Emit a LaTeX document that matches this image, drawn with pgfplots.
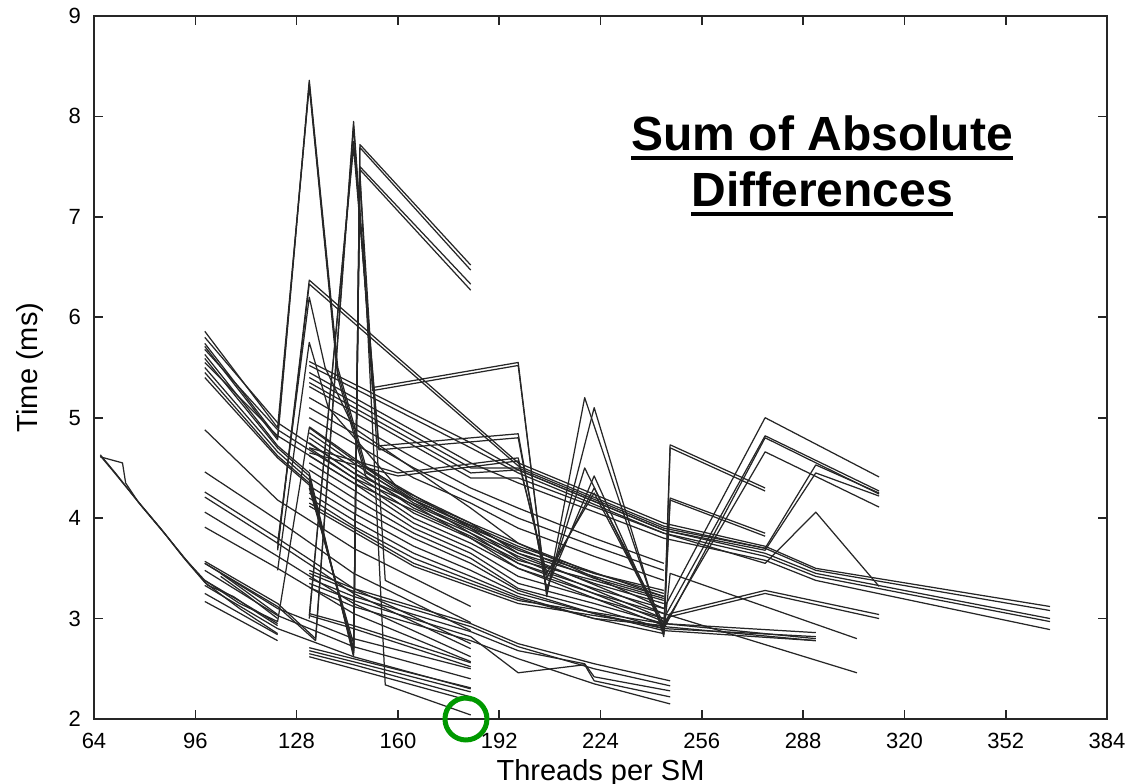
\documentclass[border=0pt]{standalone}
\usepackage{fontspec}
\setmainfont{Liberation Sans}
\usepackage{pgfplots}
\pgfplotsset{compat=1.18}
\usetikzlibrary{calc}
\definecolor{circ}{RGB}{0,153,0}
\newcommand\myul[1]{\setbox0\hbox{#1}\rlap{\rule[-4.5pt]{\wd0}{1.8pt}}\box0}

\begin{document}
\begin{tikzpicture}
\begin{axis}[name=ax, scale only axis, width=506.5pt, height=351.5pt,
  xmin=64, xmax=384, ymin=2, ymax=9,
  xtick={64,96,...,384}, ytick={2,3,...,9},
  tick align=inside, major tick length=4.5pt,
  axis line style={black!85,line width=1pt},
  every tick/.style={black!85,line width=0.8pt},
  tick label style={font=\fontsize{11}{13}\selectfont},
  /pgf/number format/assume math mode=true,
  yticklabel style={xshift=-3pt},
  xticklabel style={yshift=-3.5pt},
  xlabel={Threads per SM}, ylabel={Time (ms)},
  label style={font=\fontsize{14.5}{17}\selectfont},
  xlabel style={at={(rel axis cs:0.5,0)},anchor=north,yshift=-16.5pt},
  ylabel style={at={(rel axis cs:0,0.5)},anchor=center,yshift=32pt},
  cycle list={{black!85}},
  every axis plot/.append style={line width=0.62pt,no markers,line join=round},
  clip=false]
% left family
\addplot coordinates {(66,4.62)(70,4.47)(77,4.2)(85,3.9)(92,3.62)(99,3.38)(110,3.15)(122,2.97)(132,4.9)(146,4.58)(165,4.18)(183,3.93)(198,3.72)(244,3.22)};
\addplot coordinates {(66,4.61)(73,4.55)(74,4.35)(78,4.16)(86,3.86)(93,3.58)(99,3.36)(110,3.1)(122,2.85)};
\addplot coordinates {(66,4.63)(71,4.44)(79,4.12)(87,3.82)(94,3.55)(100,3.33)(108,3.22)(116,3.05)(122,2.93)};
\addplot coordinates {(104,3.45)(112,3.27)(122,3.04)};
\addplot coordinates {(104,3.42)(112,3.24)(122,3.0)};
% starting at 99, lower
\addplot coordinates {(99,3.55)(122,3.1)(146,2.8)(183,2.5)};
\addplot coordinates {(99,3.48)(122,3.03)(146,2.72)(183,2.4)};
\addplot coordinates {(99,3.38)(122,2.95)};
\addplot coordinates {(99,3.33)(122,2.9)(146,2.62)(183,2.3)};
\addplot coordinates {(99,3.25)(122,2.84)};
\addplot coordinates {(99,3.17)(122,2.78)};
% starting at 99, middle
\addplot coordinates {(99,4.46)(122,3.98)(146,3.45)(183,2.88)};
\addplot coordinates {(99,4.26)(122,3.8)(146,3.3)(183,2.75)};
\addplot coordinates {(99,4.21)(122,3.75)(146,3.25)(183,2.7)};
\addplot coordinates {(99,4.06)(122,3.62)(146,3.15)(183,2.62)};
\addplot coordinates {(99,3.91)(122,3.5)(146,3.05)(183,2.57)};
\addplot coordinates {(99,4.88)(122,4.18)(146,3.7)(183,3.12)};
% starting at 99, upper
\addplot coordinates {(99,5.8)(122,4.95)(146,4.45)(183,3.92)(198,3.68)(222,3.45)(244,3.28)};
\addplot coordinates {(99,5.68)(122,4.88)(146,4.4)(183,3.88)(198,3.65)(222,3.42)(244,3.22)};
\addplot coordinates {(99,5.55)(122,4.82)(146,4.35)(183,3.82)(198,3.58)(222,3.38)(244,3.18)};
% first spike
\addplot coordinates {(99,5.74)(122,4.8)(132,8.36)(141,5.5)(150,4.5)(183,3.9)(198,3.6)(244,3.0)};
\addplot coordinates {(99,5.71)(122,4.78)(132,8.33)(141,5.45)(150,4.45)(183,3.85)(198,3.55)(244,2.97)};
\addplot coordinates {(99,5.86)(122,4.9)(132,8.3)(141,5.4)(150,4.4)(183,3.8)(198,3.5)(244,2.93)};
% dip at 146, up at 148
\addplot coordinates {(99,5.63)(122,4.72)(132,4.45)(146,2.62)(148,7.72)(183,6.52)};
\addplot coordinates {(99,5.59)(122,4.7)(132,4.42)(146,2.64)(148,7.69)(183,6.47)};
\addplot coordinates {(99,5.5)(122,4.66)(132,4.38)(146,2.66)(148,7.5)(183,6.33)};
\addplot coordinates {(99,5.45)(122,4.62)(132,4.35)(146,2.68)(148,7.47)(183,6.27)};
\addplot coordinates {(99,5.4)(122,4.6)(132,4.33)(146,2.7)(148,7.45)(156,2.34)(183,2.04)};
\addplot coordinates {(132,4.3)(146,2.75)(148,7.4)(156,3.38)(183,2.96)};
% second spike
\addplot coordinates {(99,3.57)(122,3.15)(134,2.8)(146,7.95)(152,5.3)(198,5.55)(207,3.22)(219,5.2)(244,2.85)(246,4.73)(276,4.3)};
\addplot coordinates {(99,3.55)(122,3.12)(134,2.78)(146,7.9)(152,5.27)(198,5.52)(207,3.25)(222,5.1)(244,2.82)(246,4.7)(276,4.27)};
\addplot coordinates {(132,3.0)(146,7.75)(154,4.72)(198,4.84)(207,3.28)(219,4.5)(244,2.9)(246,4.2)(276,3.85)};
\addplot coordinates {(132,3.03)(146,7.7)(154,4.68)(198,4.8)(207,3.3)(222,4.42)(244,2.88)(246,4.18)(276,3.82)};
\addplot coordinates {(132,4.7)(160,4.45)(198,4.6)(207,3.4)(222,4.3)(244,2.95)(292,2.8)};
\addplot coordinates {(132,4.65)(160,4.42)(198,4.57)(207,3.45)(222,4.25)(244,2.92)(292,2.78)};
% inner spikes at 132
\addplot coordinates {(122,3.7)(132,6.37)(198,4.55)(244,3.95)(276,3.72)(292,3.5)(366,3.12)};
\addplot coordinates {(122,3.68)(132,6.33)(198,4.52)(244,3.92)(276,3.7)(292,3.48)(366,3.08)};
\addplot coordinates {(122,3.75)(132,6.2)(137,5.5)(146,4.9)(183,4.1)(198,3.75)(244,3.1)};
\addplot coordinates {(122,3.48)(132,5.75)(138,5.1)(160,4.3)(183,3.95)(198,3.65)(244,3.05)};
% from 132, upper
\addplot coordinates {(132,5.56)(183,4.75)(198,4.48)(244,3.88)(276,3.65)(292,3.45)(366,3.0)};
\addplot coordinates {(132,5.52)(183,4.7)(198,4.45)(244,3.85)(276,3.62)(292,3.42)(366,2.97)};
\addplot coordinates {(132,5.45)(183,4.55)(198,4.35)(244,3.8)(276,3.58)(292,3.38)(366,2.89)};
\addplot coordinates {(132,5.4)(183,4.5)(198,4.5)(244,3.9)(276,3.7)(292,4.53)(312,4.25)};
\addplot coordinates {(132,5.35)(183,4.45)(198,4.48)(244,3.88)(276,3.68)(292,4.45)(312,4.22)};
\addplot coordinates {(132,5.31)(183,4.4)(198,4.4)(244,3.85)(276,3.55)(292,4.06)(312,3.32)};
\addplot coordinates {(132,5.2)(165,4.6)(183,4.3)(198,4.1)(222,3.8)(244,3.55)};
\addplot coordinates {(132,5.1)(165,4.5)(183,4.22)(198,4.0)(222,3.72)(244,3.48)};
\addplot coordinates {(132,5.0)(165,4.4)(183,4.15)(198,3.9)(222,3.62)(244,3.38)};
% from 132, dense band
\addplot coordinates {(132,4.91)(146,4.6)(165,4.2)(183,3.95)(198,3.75)(222,3.45)(244,3.25)};
\addplot coordinates {(132,4.85)(146,4.55)(165,4.15)(183,3.9)(198,3.7)(222,3.4)(244,3.2)};
\addplot coordinates {(132,4.8)(146,4.5)(165,4.1)(183,3.85)(198,3.62)(222,3.35)(244,3.15)};
\addplot coordinates {(132,4.75)(146,4.45)(165,4.05)(183,3.8)(198,3.55)(222,3.3)(244,3.1)(276,5.0)(312,4.41)};
\addplot coordinates {(132,4.7)(146,4.4)(165,4.0)(183,3.75)(198,3.5)(222,3.25)(244,3.05)(305,2.46)};
\addplot coordinates {(132,4.62)(146,4.35)(165,3.95)(183,3.7)(198,3.42)(222,3.2)(244,3.0)(276,4.82)(312,4.27)};
\addplot coordinates {(132,4.55)(146,4.28)(165,3.9)(183,3.65)(198,3.35)(222,3.15)(244,2.95)(292,2.86)};
\addplot coordinates {(132,4.48)(146,4.2)(165,3.85)(183,3.6)(198,3.3)(222,3.1)(244,2.9)(292,2.82)};
\addplot coordinates {(132,4.4)(146,4.12)(165,3.8)(183,3.55)(198,3.28)(222,3.05)(244,2.88)(292,2.78)};
\addplot coordinates {(132,4.32)(146,4.05)(165,3.72)(183,3.48)(198,3.25)(222,3.05)(244,2.9)(276,4.8)(312,4.24)};
\addplot coordinates {(132,4.25)(146,3.98)(165,3.65)(183,3.42)(198,3.22)(222,3.0)(244,2.93)(276,4.66)(312,4.11)};
\addplot coordinates {(132,4.2)(146,3.92)(165,3.6)(183,3.38)(198,3.2)(222,3.0)(244,2.85)(246,3.45)(305,2.8)};
\addplot coordinates {(132,4.15)(165,3.55)(198,3.18)(244,2.95)(246,3.05)(276,3.28)(312,3.04)};
\addplot coordinates {(132,4.12)(165,3.52)(198,3.15)(244,2.92)(246,3.02)(276,3.25)(312,3.0)};
% from 132, lower
\addplot coordinates {(132,3.48)(146,3.3)(183,2.95)(198,2.75)(222,2.55)(246,2.38)};
\addplot coordinates {(132,3.45)(146,3.27)(183,2.92)(198,2.72)(222,2.5)(246,2.33)};
\addplot coordinates {(132,3.4)(146,3.22)(183,2.87)(198,2.68)(219,2.55)(222,2.42)(246,2.28)};
\addplot coordinates {(132,3.35)(146,3.18)(183,2.82)(198,2.46)(219,2.54)(222,2.38)(246,2.22)};
\addplot coordinates {(132,3.31)(146,3.12)(183,2.78)(198,2.6)(222,2.35)(246,2.15)};
\addplot coordinates {(132,3.05)(146,2.93)(183,2.56)};
\addplot coordinates {(132,3.03)(146,2.9)(183,2.52)};
\addplot coordinates {(132,2.71)(146,2.6)(183,2.31)};
\addplot coordinates {(132,2.68)(146,2.57)(183,2.27)};
\addplot coordinates {(132,2.65)(146,2.54)(183,2.22)};
\addplot coordinates {(132,2.62)(146,2.5)(183,2.18)};
% annotations
\node[align=center, inner sep=0, font=\bfseries\fontsize{24}{28}\selectfont]
  at (axis cs:294,7.51) {\myul{Sum of Absolute}\\\myul{Differences}};
\draw[circ, line width=2.5pt] (axis cs:181.5,2.0) circle[radius=10.5pt];
\end{axis}
\pgfresetboundingbox
\path ($(ax.south west)+(-47pt,-32.5pt)$) rectangle ($(ax.north east)+(16.5pt,8pt)$);
\end{tikzpicture}
\end{document}
